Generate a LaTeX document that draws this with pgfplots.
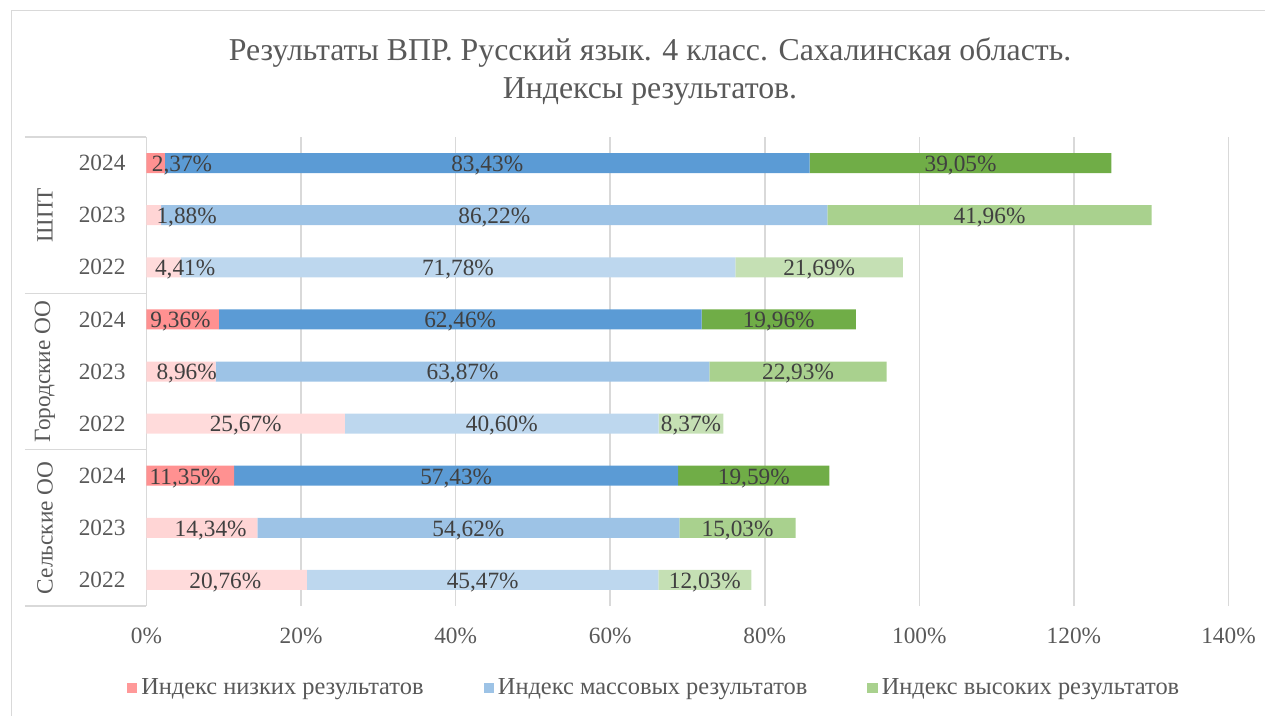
\documentclass[border=0pt]{standalone}
\usepackage{fontspec}
\setmainfont{Liberation Serif}
\usepackage{pgfplots}
\usepackage{pgfplotstable}
\pgfplotsset{compat=1.18}

\definecolor{lowA}{HTML}{FF9191}
\definecolor{lowB}{HTML}{FFD5D5}
\definecolor{lowC}{HTML}{FFDBDB}
\definecolor{midA}{HTML}{5B9BD5}
\definecolor{midB}{HTML}{9DC3E6}
\definecolor{midC}{HTML}{BDD7EE}
\definecolor{hiA}{HTML}{70AD47}
\definecolor{hiB}{HTML}{A9D18E}
\definecolor{hiC}{HTML}{C5E0B4}
\definecolor{legLow}{HTML}{FF9999}
\definecolor{axgray}{HTML}{595959}
\definecolor{lblgray}{HTML}{404040}
\definecolor{gridgray}{HTML}{D9D9D9}

% rows: 0..8 top to bottom (ШПТ 2024 ... Сельские ОО 2022)
\pgfplotstableread{
row low mid high
0 2.37 83.43 39.05
3 9.36 62.46 19.96
6 11.35 57.43 19.59
}\yrA
\pgfplotstableread{
row low mid high
1 1.88 86.22 41.96
4 8.96 63.87 22.93
7 14.34 54.62 15.03
}\yrB
\pgfplotstableread{
row low mid high
2 4.41 71.78 21.69
5 25.67 40.60 8.37
8 20.76 45.47 12.03
}\yrC

% label centres (x in %), row, text
\pgfplotstableread{
x row lab
4.6 0 2,37\%
44.09 0 83,43\%
105.33 0 39,05\%
5.2 1 1,88\%
45.0 1 86,22\%
109.08 1 41,96\%
5.0 2 4,41\%
40.3 2 71,78\%
87.04 2 21,69\%
4.4 3 9,36\%
40.59 3 62,46\%
81.80 3 19,96\%
5.2 4 8,96\%
40.90 4 63,87\%
84.30 4 22,93\%
12.84 5 25,67\%
45.97 5 40,60\%
70.46 5 8,37\%
5.0 6 11,35\%
40.07 6 57,43\%
78.58 6 19,59\%
8.3 7 14,34\%
41.65 7 54,62\%
76.48 7 15,03\%
10.2 8 20,76\%
43.50 8 45,47\%
72.24 8 12,03\%
}\labels

\tikzset{txt/.style={font=\fontsize{11.65}{14}\selectfont}}
\pgfplotsset{
  base/.style={
    scale only axis, width=541pt, height=234.5pt,
    at={(0,0)}, anchor=south west,
    xmin=0, xmax=140, ymin=-0.5, ymax=8.5, y dir=reverse,
    clip=false,
  },
  bars/.style={base, xbar stacked, bar width=10pt},
}

\begin{document}
\begin{tikzpicture}
\begin{axis}[
  bars,
  xtick={0,20,...,140},
  xticklabel={\pgfmathprintnumber{\tick}\%},
  ytick={0,...,8},
  yticklabels={2024,2023,2022,2024,2023,2022,2024,2023,2022},
  xmajorgrids,
  grid style={draw=gridgray, line width=0.8pt},
  axis line style={draw=none},
  major tick length=0pt,
  tick label style={txt, text=axgray},
  /pgf/number format/assume math mode=true,
  xticklabel style={anchor=center, yshift=-15pt},
  yticklabel style={anchor=east, xshift=-7pt},
  legend style={at={(0.47,-0.175)}, anchor=center, draw=none,
    font=\fontsize{12.2}{14}\selectfont, text=axgray,
    legend columns=3,
    /tikz/every even column/.append style={column sep=28pt}},
  legend image code/.code={\fill[#1, draw=none] (0pt,-2.6pt) rectangle (5.2pt,2.6pt);},
]
  \addlegendimage{fill=legLow, draw=none}
  \addlegendentry{Индекс низких результатов}
  \addlegendimage{fill=midB, draw=none}
  \addlegendentry{Индекс массовых результатов}
  \addlegendimage{fill=hiB, draw=none}
  \addlegendentry{Индекс высоких результатов}
  \addplot[fill=lowA, draw=none, forget plot] table[x=low, y=row] {\yrA};
  \addplot[fill=midA, draw=none, forget plot] table[x=mid, y=row] {\yrA};
  \addplot[fill=hiA, draw=none, forget plot] table[x=high, y=row] {\yrA};
\end{axis}

\begin{axis}[bars, hide axis]
  \addplot[fill=lowB, draw=none] table[x=low, y=row] {\yrB};
  \addplot[fill=midB, draw=none] table[x=mid, y=row] {\yrB};
  \addplot[fill=hiB, draw=none] table[x=high, y=row] {\yrB};
\end{axis}

\begin{axis}[bars, hide axis]
  \addplot[fill=lowC, draw=none] table[x=low, y=row] {\yrC};
  \addplot[fill=midC, draw=none] table[x=mid, y=row] {\yrC};
  \addplot[fill=hiC, draw=none] table[x=high, y=row] {\yrC};
\end{axis}

\begin{axis}[base, hide axis]
  \addplot[draw=none, mark=none, nodes near coords, point meta=explicit symbolic,
    nodes near coords align={anchor=center},
    every node near coord/.append style={txt, text=lblgray, inner sep=0pt,
      anchor=center, yshift=-1.2pt}]
    table[x=x, y=row, meta=lab] {\labels};
  % group box lines
  \draw[gridgray, line width=0.8pt] ([xshift=-60.75pt]axis cs:0,-0.5) -- (axis cs:0,-0.5);
  \draw[gridgray, line width=0.8pt] ([xshift=-60.75pt]axis cs:0,2.5) -- (axis cs:0,2.5);
  \draw[gridgray, line width=0.8pt] ([xshift=-60.75pt]axis cs:0,5.5) -- (axis cs:0,5.5);
  \draw[gridgray, line width=0.8pt] ([xshift=-60.75pt]axis cs:0,8.5) -- (axis cs:0,8.5);
  \node[txt, text=axgray, rotate=90] at ([xshift=-50.75pt]axis cs:0,1) {ШПТ};
  \node[txt, text=axgray, rotate=90] at ([xshift=-50.75pt]axis cs:0,4) {Городские ОО};
  \node[txt, text=axgray, rotate=90] at ([xshift=-50.75pt]axis cs:0,7) {Сельские ОО};
\end{axis}

\node[align=center, font=\fontsize{15.9}{19}\selectfont, text=axgray]
  at (251.75pt, 267pt) {Результаты ВПР. Русский язык. 4 класс. Сахалинская область.\\Индексы результатов.};

\draw[gridgray, line width=0.8pt] (-67.5pt,-70pt) -- (-67.5pt,297.75pt) -- (580pt,297.75pt);

\pgfresetboundingbox
\path[use as bounding box] (-73.25pt,-55pt) rectangle (559.25pt,303pt);
\end{tikzpicture}
\end{document}
